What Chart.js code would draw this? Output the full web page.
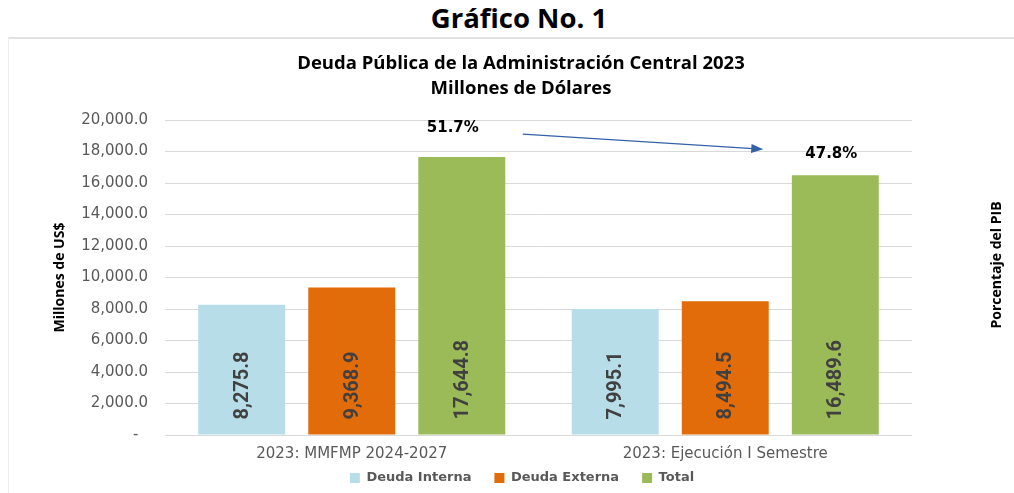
<!DOCTYPE html>
<html><head><meta charset="utf-8">
<script src="https://cdn.jsdelivr.net/npm/chart.js@4/dist/chart.umd.min.js"></script>
<style>
html,body{margin:0;padding:0;background:#fff;}
#wrap{position:relative;width:1014px;height:493px;overflow:hidden;background:#fff;}
#frame{position:absolute;left:8px;top:37px;width:1010px;height:470px;border-top:2px solid #e2e2e2;border-left:1px solid #efefef;}
#head{position:absolute;left:12px;top:0;width:1014px;text-align:center;font-family:'Open Sans';font-weight:bold;font-size:27.5px;line-height:36px;color:#000;}
canvas{position:absolute;left:0;top:0;}
</style></head>
<body>
<div id="wrap">
<div id="frame"></div>
<div id="head">Gráfico No. 1</div>
<canvas id="c" width="1014" height="493"></canvas>
</div>
<script>
// ---- data ----
const categories = ['2023: MMFMP 2024-2027', '2023: Ejecución I Semestre'];
const seriesNames = ['Deuda Interna', 'Deuda Externa', 'Total'];
const deudaInterna = [8275.8, 7995.1];
const deudaExterna = [9368.9, 8494.5];
const total = [17644.8, 16489.6];
const pctPIB = ['51.7%', '47.8%'];
const yTicks = [0, 2000, 4000, 6000, 8000, 10000, 12000, 14000, 16000, 18000, 20000];
const titleLines = ['Deuda Pública de la Administración Central 2023', 'Millones de Dólares'];
const yTitle = 'Millones de US$';
const y2Title = 'Porcentaje del PIB';

const colors = ['#B7DEE8', '#E26B0A', '#9BBB59'];
const fmt = v => v.toLocaleString('en-US', {minimumFractionDigits: 1, maximumFractionDigits: 1});

const barLabels = {
  id: 'barLabels',
  afterDatasetsDraw(chart) {
    const ctx = chart.ctx;
    ctx.save();
    ctx.font = 'bold 20px Roboto';
    ctx.fillStyle = '#404040';
    ctx.textAlign = 'left';
    ctx.textBaseline = 'middle';
    chart.data.datasets.forEach((ds, di) => {
      const meta = chart.getDatasetMeta(di);
      meta.data.forEach((bar, i) => {
        ctx.save();
        ctx.translate(bar.x + 1, bar.base - 15);
        ctx.rotate(-Math.PI / 2);
        ctx.fillText(fmt(ds.data[i]), 0, 0);
        ctx.restore();
      });
    });
    // percentage labels above the total bars + arrow
    const meta = chart.getDatasetMeta(2);
    const dy = [-29, -21], dx = [-9, -4];
    ctx.font = 'bold 15px "DejaVu Sans"';
    ctx.fillStyle = '#000';
    ctx.textAlign = 'center';
    const pos = [];
    meta.data.forEach((bar, i) => {
      const x = bar.x + dx[i], y = bar.y + dy[i];
      ctx.fillText(pctPIB[i], x, y);
      const w = ctx.measureText(pctPIB[i]).width;
      pos.push({x, y, w});
    });
    if (pos.length === 2) {
      const x1 = pos[0].x + pos[0].w / 2 + 44, y1 = pos[0].y + 6;
      const x2 = pos[1].x - pos[1].w / 2 - 42, y2 = pos[1].y - 5;
      const ang = Math.atan2(y2 - y1, x2 - x1);
      ctx.strokeStyle = '#3362A6';
      ctx.fillStyle = '#3362A6';
      ctx.lineWidth = 1.3;
      ctx.beginPath();
      ctx.moveTo(x1, y1);
      ctx.lineTo(x2 - 10 * Math.cos(ang), y2 - 10 * Math.sin(ang));
      ctx.stroke();
      ctx.beginPath();
      ctx.moveTo(x2, y2);
      ctx.lineTo(x2 - 12 * Math.cos(ang) + 4.5 * Math.sin(ang), y2 - 12 * Math.sin(ang) - 4.5 * Math.cos(ang));
      ctx.lineTo(x2 - 12 * Math.cos(ang) - 4.5 * Math.sin(ang), y2 - 12 * Math.sin(ang) + 4.5 * Math.cos(ang));
      ctx.closePath();
      ctx.fill();
    }
    ctx.restore();
  }
};

const rightTitle = {
  id: 'rightTitle',
  afterDraw(chart) {
    const ctx = chart.ctx;
    ctx.save();
    ctx.font = 'bold 14px "Open Sans"';
    ctx.fillStyle = '#000';
    ctx.textAlign = 'center';
    ctx.textBaseline = 'middle';
    ctx.translate(997, chart.chartArea.top + 145);
    ctx.rotate(-Math.PI / 2);
    ctx.fillText(y2Title, 0, 0);
    ctx.restore();
  }
};

const shiftBoxes = {
  id: 'shiftBoxes',
  beforeDraw(chart) {
    if (chart.titleBlock) { chart.titleBlock.left = 28; chart.titleBlock.right = 1014; }
    if (chart.legend) {
      chart.legend.left = 30; chart.legend.right = 1014;
      const lf = chart.legend.options.labels;
      chart.legend.top = 478 - lf.padding - 13 / 2;
    }
  }
};

new Chart(document.getElementById('c'), {
  type: 'bar',
  data: {
    labels: categories,
    datasets: [
      {label: seriesNames[0], data: deudaInterna, backgroundColor: colors[0]},
      {label: seriesNames[1], data: deudaExterna, backgroundColor: colors[1]},
      {label: seriesNames[2], data: total, backgroundColor: colors[2]}
    ]
  },
  options: {
    responsive: false,
    animation: false,
    devicePixelRatio: 1,
    categoryPercentage: 0.884,
    barPercentage: 0.79,
    layout: {padding: {top: 37, left: 0, right: 102, bottom: -18.4}},
    plugins: {
      title: {
        display: true,
        text: titleLines,
        color: '#000',
        font: {family: 'Open Sans', size: 18.5, weight: 'bold', lineHeight: '25px'},
        padding: {top: 14, bottom: 19}
      },
      legend: {
        position: 'bottom',
        labels: {
          boxWidth: 10, boxHeight: 10, padding: 23,
          color: '#595959',
          font: {family: 'DejaVu Sans', size: 13, weight: 'bold'}
        }
      },
      tooltip: {enabled: false}
    },
    scales: {
      x: {
        grid: {display: false, drawTicks: false},
        border: {display: false},
        ticks: {color: '#595959', font: {family: 'DejaVu Sans', size: 15}, padding: 10},
        afterFit(s) { s.height = 30.4; }
      },
      y: {
        min: 0, max: 20000,
        afterBuildTicks(s) { s.ticks = yTicks.map(v => ({value: v})); },
        ticks: {
          color: '#595959', font: {family: 'DejaVu Sans', size: 15}, padding: 17,
          callback: v => v === 0 ? '-  ' : fmt(v)
        },
        grid: {color: '#D9D9D9', lineWidth: 1, drawTicks: false},
        border: {display: false},
        title: {display: true, text: yTitle, color: '#000', font: {family: 'Open Sans', size: 14, weight: 'bold'}, padding: {top: 52, bottom: 0}},
        afterFit(s) { s.width = 165; }
      }
    }
  },
  plugins: [barLabels, rightTitle, shiftBoxes]
});
</script>
</body></html>
